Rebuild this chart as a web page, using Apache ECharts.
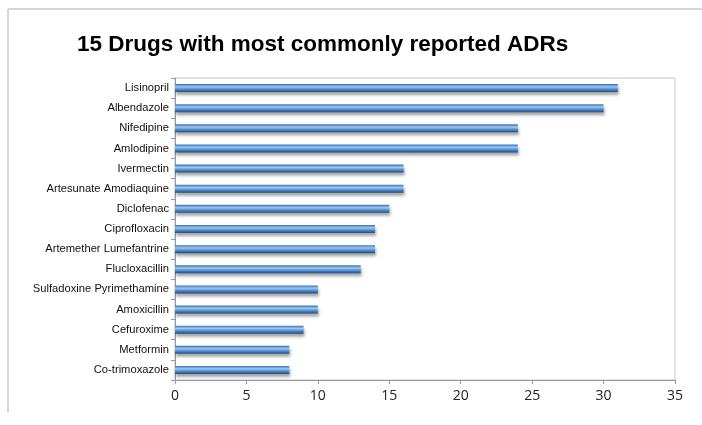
<!DOCTYPE html>
<html><head><meta charset="utf-8">
<script src="https://cdn.jsdelivr.net/npm/echarts@6/dist/echarts.min.js"></script>
<style>html,body{margin:0;padding:0;background:#fff}#c{width:702px;height:425px}</style>
</head><body><div id="c"></div>
<script>
var categories = ["Lisinopril","Albendazole","Nifedipine","Amlodipine","Ivermectin","Artesunate Amodiaquine","Diclofenac","Ciprofloxacin","Artemether Lumefantrine","Flucloxacillin","Sulfadoxine Pyrimethamine","Amoxicillin","Cefuroxime","Metformin","Co-trimoxazole"];
var values = [31,30,24,24,16,16,15,14,14,13,10,10,9,8,8];
var xTicks = [0,5,10,15,20,25,30,35];
var titleText = "15 Drugs with most commonly reported ADRs";

var chart = echarts.init(document.getElementById('c'), null, {renderer:'canvas'});
chart.setOption({
  animation:false,
  backgroundColor:'#fff',
  title:{text:titleText,left:72,top:28,textStyle:{fontFamily:'Liberation Sans',fontWeight:'bold',fontSize:22.5,color:'#000'}},
  graphic:[
    {type:'line',shape:{x1:8,y1:9,x2:702,y2:9},style:{stroke:'#c8c8c8',lineWidth:1.5},silent:true},
    {type:'line',shape:{x1:8,y1:9,x2:8,y2:412},style:{stroke:'#c8c8c8',lineWidth:1.5},silent:true}
  ],
  grid:{left:175,right:27,top:78,bottom:45,show:true,borderColor:'#c4c4c4',borderWidth:1},
  xAxis:{type:'value',min:xTicks[0],max:xTicks[xTicks.length-1],interval:5,
    axisLine:{show:true,lineStyle:{color:'#9a9a9a'}},
    axisTick:{show:true,length:4,lineStyle:{color:'#9a9a9a'}},
    splitLine:{show:false},
    axisLabel:{fontFamily:'Open Sans',fontSize:14,color:'#222',margin:9}},
  yAxis:{type:'category',inverse:true,data:categories,
    axisLine:{show:true,lineStyle:{color:'#9a9a9a'}},
    axisTick:{show:true,length:4,alignWithLabel:false,lineStyle:{color:'#9a9a9a'}},
    axisLabel:{fontFamily:'Liberation Sans',fontSize:11.2,color:'#111',margin:6}},
  series:[{type:'bar',data:values,barWidth:8,
    itemStyle:{
      color:new echarts.graphic.LinearGradient(0,0,0,1,[
        {offset:0,color:'#3a6fb0'},{offset:0.35,color:'#9cc8f2'},{offset:0.6,color:'#5d96d6'},{offset:1,color:'#1d4a84'}]),
      shadowColor:'rgba(0,0,0,0.35)',shadowBlur:3,shadowOffsetY:3,shadowOffsetX:1
    }}]
});
</script></body></html>
